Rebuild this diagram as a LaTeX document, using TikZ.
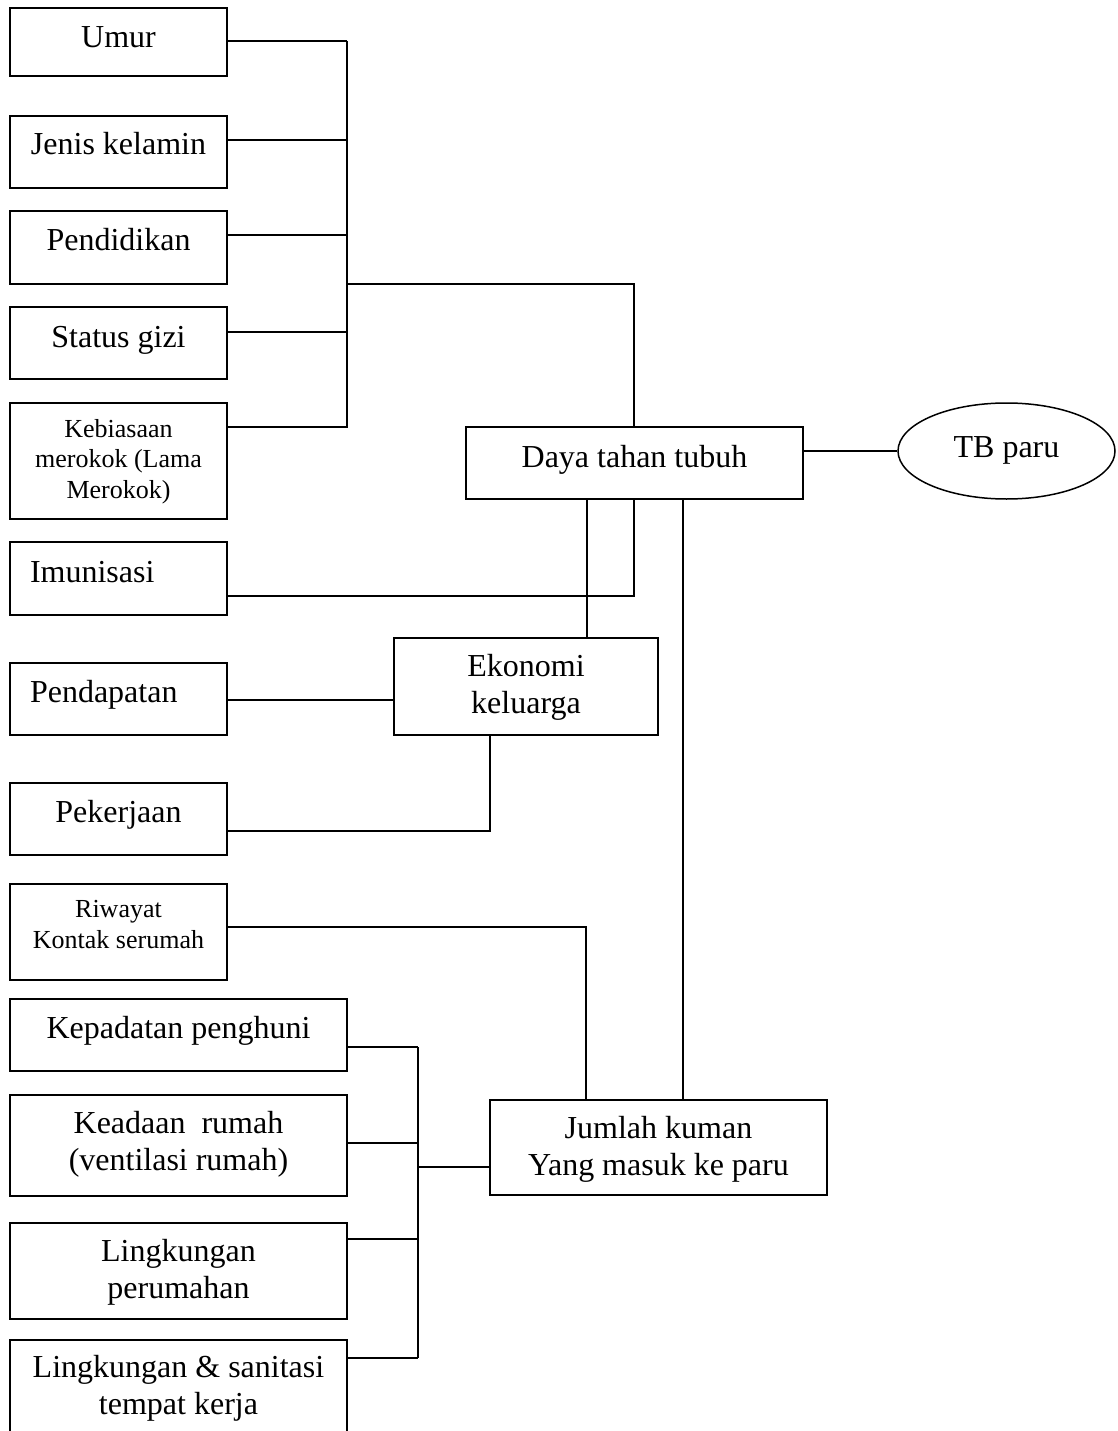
\documentclass[tikz,border=0pt]{standalone}
\usepackage{fontspec}
\setmainfont{Liberation Serif}
\usetikzlibrary{shapes.geometric}
\begin{document}
\begin{tikzpicture}[x=1pt,y=-1pt,
  box/.style={draw, line width=1.5pt, inner sep=0pt, align=center, text depth=0pt},
  big/.style={font=\fontsize{32}{37}\selectfont},
  small/.style={font=\fontsize{26}{30.5}\selectfont},
  bl/.style={text height=#1},
  lw/.style={minimum width=217pt},
  ww/.style={minimum width=337pt},
  lft/.style={align=left, text width=177pt, inner xsep=20pt},
  conn/.style={line width=1.5pt}]
\useasboundingbox (0,0) rectangle (1117,1431);
\fill[white] (0,0) rectangle (1117,1431);
% left column
\node[box,big,lw,minimum height=68pt,bl=12pt] (umur) at (118.5,42) {Umur};
\node[box,big,lw,minimum height=72pt,bl=6pt] (jenis) at (118.5,152) {Jenis kelamin};
\node[box,big,lw,minimum height=73pt,bl=7pt] (pend) at (118.5,247.5) {Pendidikan};
\node[box,big,lw,minimum height=72pt,bl=8pt] (status) at (118.5,343) {Status gizi};
\node[box,small,lw,minimum height=116pt,bl=74pt] (kebi) at (118.5,461) {Kebiasaan\\merokok (Lama\\Merokok)};
\node[box,big,lft,minimum height=73pt,bl=7pt] (imun) at (118.5,578.5) {Imunisasi};
\node[box,big,lft,minimum height=72pt,bl=6pt] (pdpt) at (118.5,699) {Pendapatan};
\node[box,big,lw,minimum height=72pt,bl=6pt] (pek) at (118.5,819) {Pekerjaan};
\node[box,small,lw,minimum height=96pt,bl=32pt] (riw) at (118.5,932) {Riwayat\\Kontak serumah};
\node[box,big,ww,minimum height=72pt,bl=6pt] (kepa) at (178.5,1035) {Kepadatan penghuni};
\node[box,big,ww,minimum height=101pt,bl=49pt] (kead) at (178.5,1145.5) {Keadaan~ rumah\\(ventilasi rumah)};
\node[box,big,ww,minimum height=96pt,bl=54pt] (lingp) at (178.5,1271) {Lingkungan\\perumahan};
\node[box,big,ww,minimum height=100pt,bl=48pt] (lings) at (178.5,1390) {Lingkungan \& sanitasi\\tempat kerja};
% middle / right
\node[box,big,ww,minimum height=72pt,bl=8pt] (daya) at (634.5,463) {Daya tahan tubuh};
\node[box,big,minimum width=264pt,minimum height=97pt,bl=53pt] (eko) at (526,686.5) {Ekonomi\\keluarga};
\node[box,big,ww,minimum height=95pt,bl=55pt] (jumlah) at (658.5,1147.5) {Jumlah kuman\\Yang masuk ke paru};
\node[box,big,ellipse,minimum width=217pt,minimum height=96pt,bl=12pt] (tb) at (1006.5,451) {TB paru};
% bus 1
\coordinate (b1t) at (347,41);
\coordinate (b1b) at (347,428);
\coordinate (b1o) at (347,284);
\coordinate (c1) at (634,284);
\draw[conn] (umur.east |- b1t) -- (b1t);
\draw[conn] (jenis.east |- 0,140) -- (b1t |- 0,140);
\draw[conn] (pend.east |- 0,235) -- (b1t |- 0,235);
\draw[conn] (status.east |- 0,332) -- (b1t |- 0,332);
\draw[conn] (kebi.east |- 0,427) -- (b1t |- 0,427);
\draw[conn] (b1t) -- (b1b);
\draw[conn] (b1o) -- (c1) -- (daya.north -| c1);
% daya to TB
\draw[conn] (daya.east |- tb.west) -- (tb.west);
% imunisasi
\coordinate (c2) at (634,596);
\draw[conn] (imun.east |- c2) -- (c2) -- (daya.south -| c2);
% ekonomi to daya
\draw[conn] (eko.north -| 587,0) -- (daya.south -| 587,0);
% pendapatan to ekonomi
\draw[conn] (pdpt.east |- 0,700) -- (eko.west |- 0,700);
% pekerjaan to ekonomi
\coordinate (c3) at (490,831);
\draw[conn] (pek.east |- c3) -- (c3) -- (eko.south -| c3);
% daya to jumlah
\draw[conn] (daya.south -| 683,0) -- (jumlah.north -| 683,0);
% riwayat to jumlah
\coordinate (c4) at (586,927);
\draw[conn] (riw.east |- c4) -- (c4) -- (jumlah.north -| c4);
% bus 2
\coordinate (b2t) at (418,1047);
\coordinate (b2b) at (418,1358);
\coordinate (b2o) at (418,1167);
\draw[conn] (kepa.east |- b2t) -- (b2t);
\draw[conn] (kead.east |- 0,1143) -- (b2t |- 0,1143);
\draw[conn] (lingp.east |- 0,1239) -- (b2t |- 0,1239);
\draw[conn] (lings.east |- b2b) -- (b2b);
\draw[conn] (b2t) -- (b2b);
\draw[conn] (b2o) -- (jumlah.west |- b2o);
\end{tikzpicture}
\end{document}
